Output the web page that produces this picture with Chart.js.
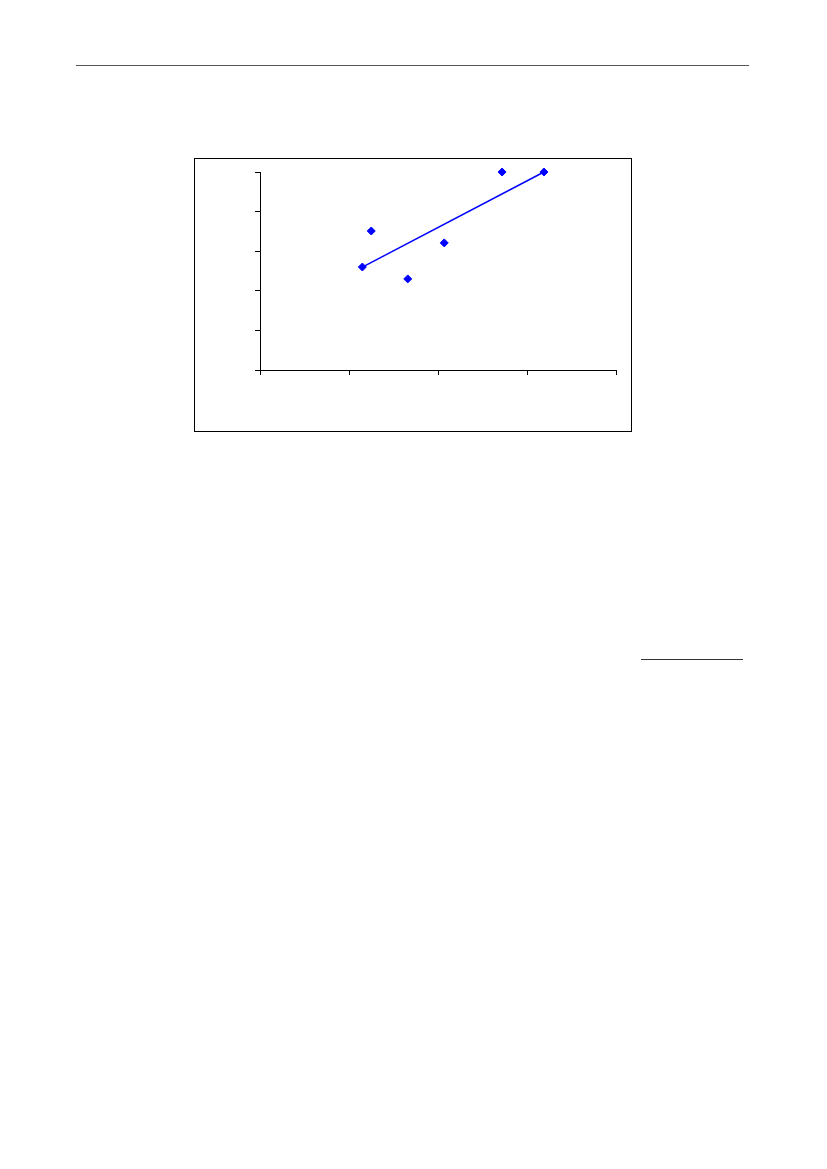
<!DOCTYPE html>
<html>
<head>
<meta charset="utf-8">
<script src="https://cdn.jsdelivr.net/npm/chart.js@4"></script>
<style>
  html, body { margin: 0; padding: 0; background: #fff; }
  body { width: 827px; height: 1169px; position: relative; }
  .rule { position: absolute; height: 1px; background: #555; }
  #box { position: absolute; left: 194px; top: 158px; width: 436px; height: 272px; border: 1px solid #000; }
</style>
</head>
<body>
<div class="rule" style="left:76px; top:65px; width:673px;"></div>
<div class="rule" style="left:641px; top:659px; width:102px; background:#333;"></div>
<div id="box"><canvas id="scatterChart" width="436" height="272"></canvas></div>
<script>
// Дані
const xValues = [11.5, 12.5, 16.6, 20.7, 27.2, 31.9];
const yValues = [26.0, 35.1, 23.0, 32.1, 50.0, 50.0];
const trendX = [11.5, 31.9];
const trendY = [26.0, 50.0];
const xTicks = [0, 10, 20, 30, 40];
const yTicks = [0, 10, 20, 30, 40, 50];

function toPoints(xs, ys) {
    return xs.map((x, i) => ({ x: x, y: ys[i] }));
}

const axisGrid = {
    drawOnChartArea: false,
    drawTicks: true,
    tickLength: 5,
    color: '#000',
    lineWidth: 1
};

new Chart(document.getElementById('scatterChart'), {
    type: 'scatter',
    data: {
        datasets: [{
            data: toPoints(xValues, yValues),
            pointStyle: 'rectRot',
            pointRadius: 4,
            pointBorderWidth: 1,
            backgroundColor: '#0000FF',
            borderColor: '#0000FF',
            clip: false
        }, {
            type: 'line',
            data: toPoints(trendX, trendY),
            borderColor: '#0000FF',
            borderWidth: 1.5,
            pointRadius: 0,
            fill: false,
            clip: false
        }]
    },
    options: {
        responsive: false,
        animation: false,
        layout: { padding: { left: 60, top: 13, right: 15, bottom: 56 } },
        plugins: { legend: { display: false }, tooltip: { enabled: false } },
        scales: {
            x: {
                type: 'linear',
                min: xTicks[0],
                max: xTicks[xTicks.length - 1],
                afterBuildTicks: s => { s.ticks = xTicks.map(v => ({ value: v })); },
                ticks: { display: false },
                grid: axisGrid,
                border: { display: true, color: '#000', width: 1 }
            },
            y: {
                type: 'linear',
                min: yTicks[0],
                max: yTicks[yTicks.length - 1],
                afterBuildTicks: s => { s.ticks = yTicks.map(v => ({ value: v })); },
                ticks: { display: false },
                grid: axisGrid,
                border: { display: true, color: '#000', width: 1 }
            }
        }
    }
});
</script>
</body>
</html>
